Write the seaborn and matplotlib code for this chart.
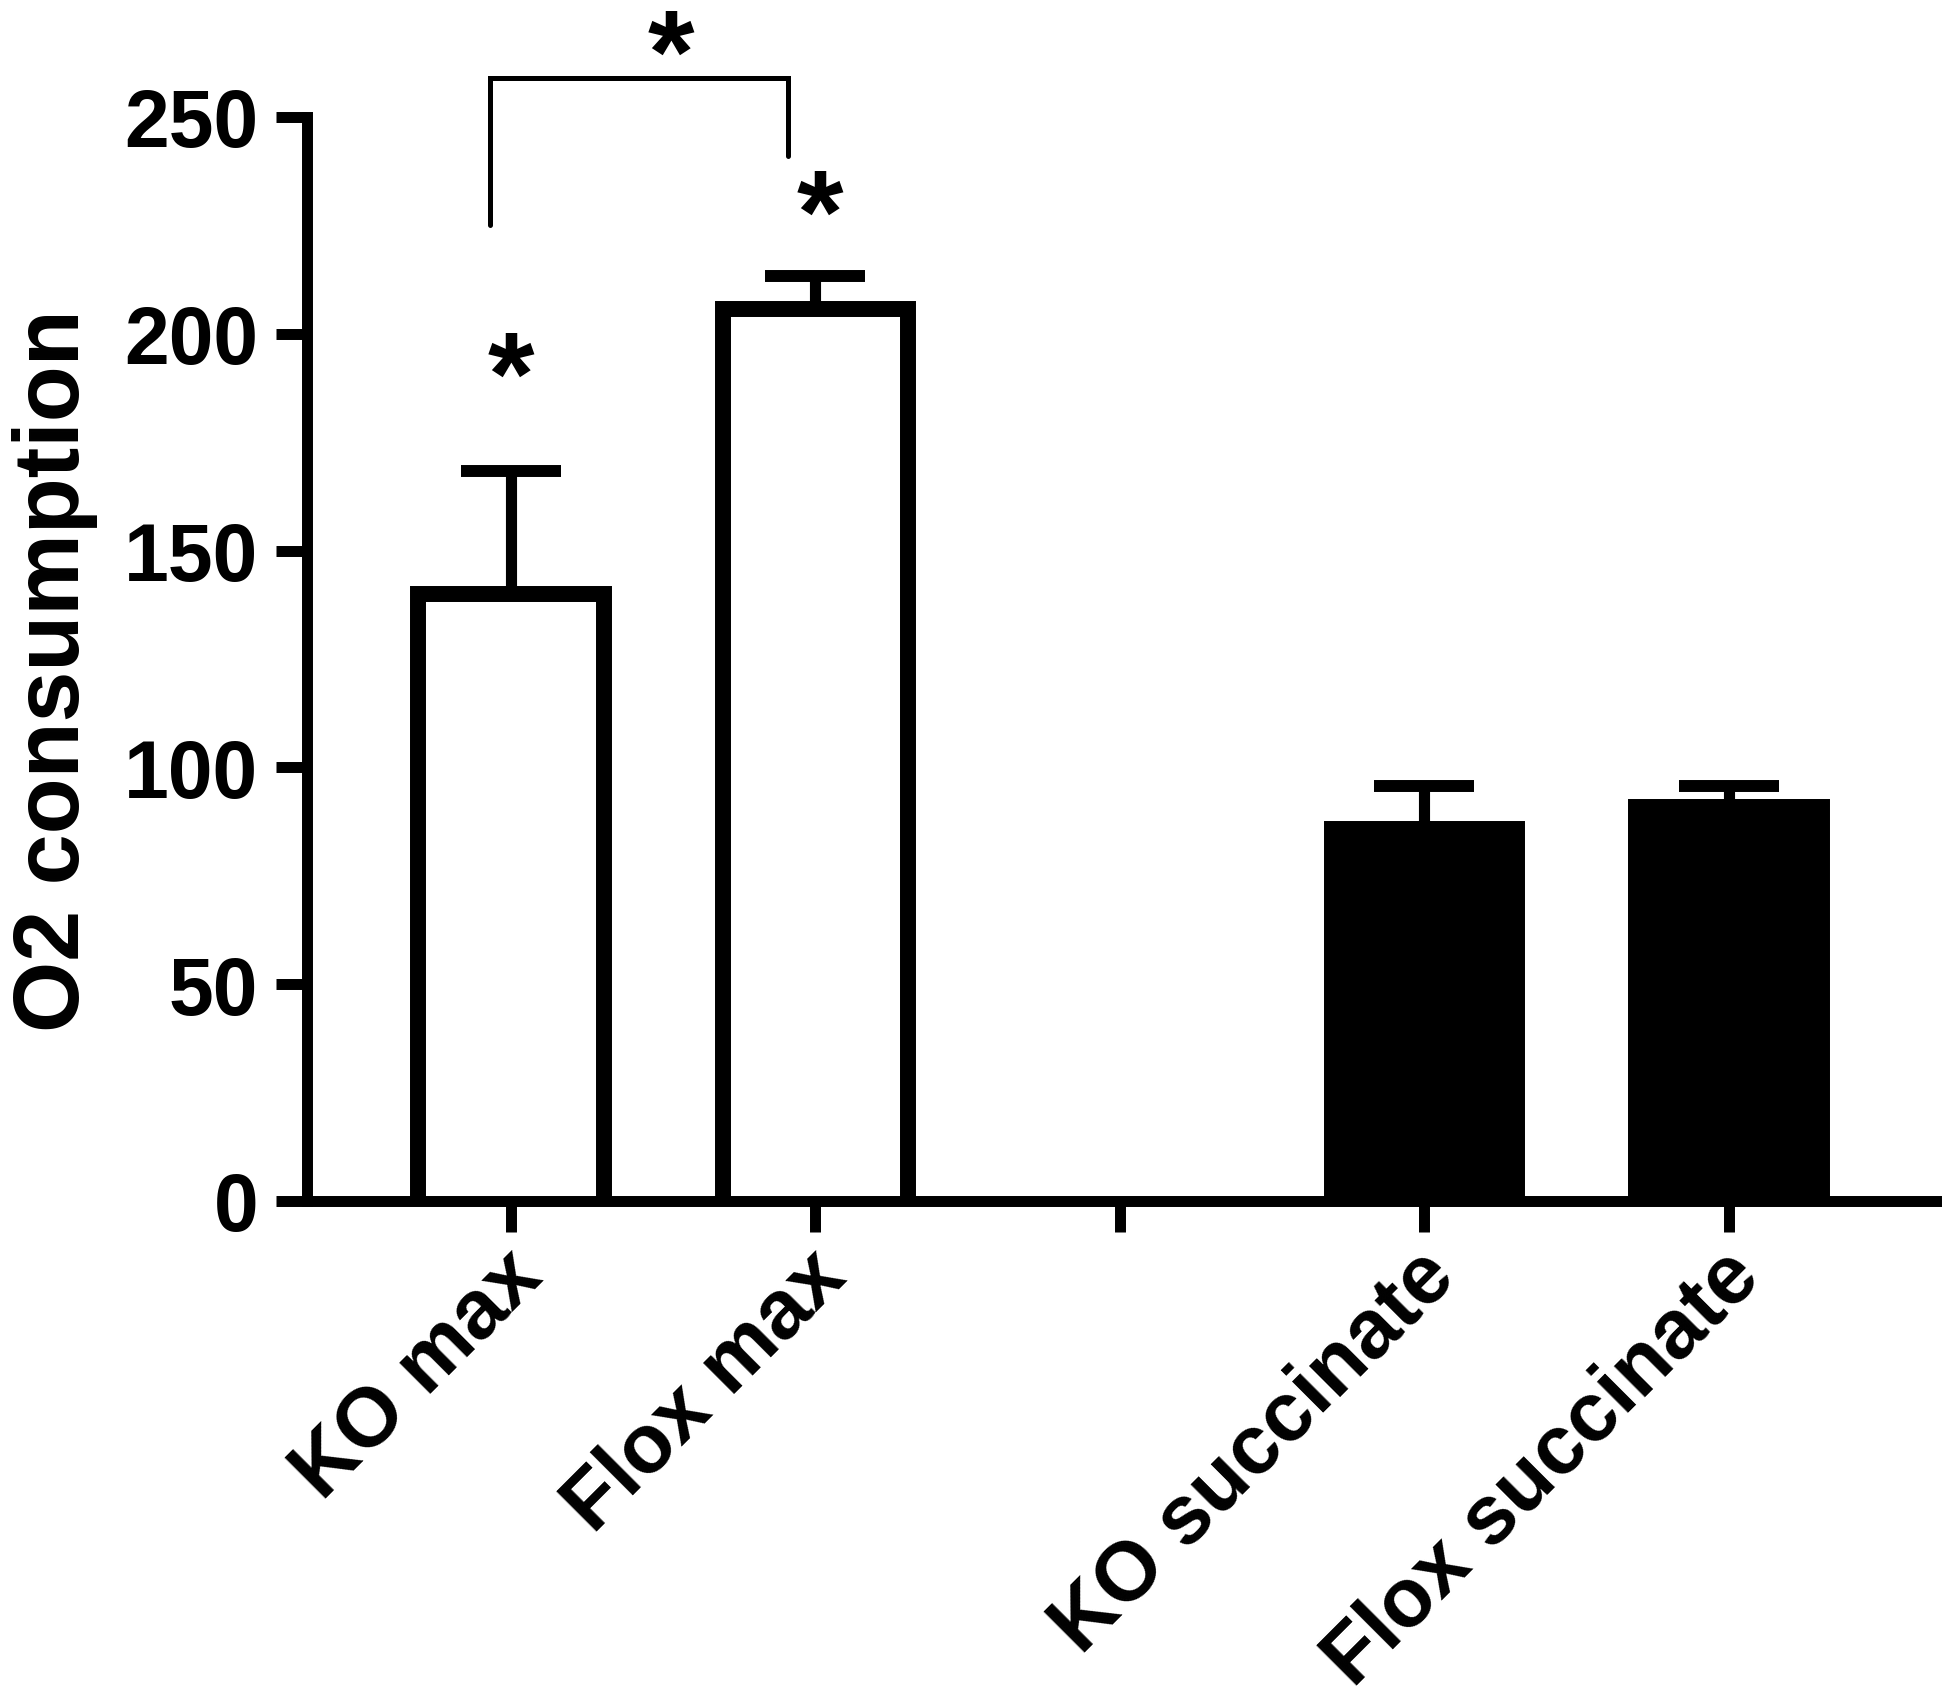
import numpy as np
import pandas as pd
import matplotlib
matplotlib.use("Agg")
import matplotlib.pyplot as plt
import matplotlib.transforms as mtransforms
import seaborn as sns

# ---- data ----
groups = ["KO max", "Flox max", "KO succinate", "Flox succinate"]
means = [140.1, 205.7, 85.9, 90.9]
err_up = [28.2, 7.7, 9.9, 4.9]
fills = ["white", "white", "black", "black"]
order = ["KO max", "Flox max", " ", "KO succinate", "Flox succinate"]
yticks = [0, 50, 100, 150, 200, 250]

# significance annotations
bracket_x = [-0.07, -0.07, 0.91, 0.91]
bracket_y = [225, 259, 259, 241]
star_x = [0.0, 1.015, 0.525]
star_y = [194.6, 231.8, 268.7]

sns.set_theme(style="ticks")
plt.rcParams["font.family"] = ["Liberation Sans", "DejaVu Sans"]
plt.rcParams["font.weight"] = "bold"

DPI = 100
fig = plt.figure(figsize=(19.5, 17.06), dpi=DPI)
ax = fig.add_axes([307 / 1950, 1 - 1202 / 1706, 1629 / 1950, 1084 / 1706])

bar_lw = 11.5
df = pd.DataFrame({"group": groups, "value": means})
sns.barplot(data=df, x="group", y="value", hue="group", order=order,
            hue_order=groups, palette=dict(zip(groups, fills)), legend=False,
            width=0.61, edgecolor="black", linewidth=bar_lw, errorbar=None,
            saturation=1, ax=ax)

pos = [order.index(g) for g in groups]
ax.errorbar(pos, means, yerr=[np.zeros(len(means)), err_up], fmt="none",
            ecolor="black", elinewidth=8, capsize=36, capthick=8.6, zorder=3)

ax.set_ylim(0, 250)
ax.set_xlim(-0.67, 4.68)
ax.set_yticks(yticks)
ax.set_yticklabels([str(v) for v in yticks])

# push each bar's bottom outline below the baseline so it hides under the axis
px_per_unit = (ax.transData.transform((0, 1))[1] - ax.transData.transform((0, 0))[1])
dy = (bar_lw / 72 * DPI / 2) / px_per_unit
for p in ax.patches:
    p.set_y(p.get_y() - dy)
    p.set_height(p.get_height() + dy)

sns.despine(ax=ax)
for s in ["left", "bottom"]:
    ax.spines[s].set_linewidth(7.9)
    ax.spines[s].set_color("black")
    ax.spines[s].set_zorder(5)

ax.tick_params(axis="both", length=22, width=7.9, color="black",
               labelsize=58, labelcolor="black")
ax.tick_params(axis="y", pad=13)
ax.tick_params(axis="x", pad=23, labelsize=60)

for lab in ax.get_yticklabels():
    lab.set_fontweight("bold")
offset = mtransforms.ScaledTranslation(0.18, 0, fig.dpi_scale_trans)
for lab in ax.get_xticklabels():
    lab.set_fontweight("bold")
    lab.set_rotation(45)
    lab.set_ha("right")
    lab.set_va("center")
    lab.set_rotation_mode("anchor")
    lab.set_transform(lab.get_transform() + offset)

ax.set_xlabel("")
ax.set_ylabel("O2 consumption", fontsize=66, fontweight="bold", color="black")
ax.yaxis.set_label_coords(-0.128, 0.49)

# bracket and stars
ax.plot(bracket_x, bracket_y, color="black", lw=3.6, clip_on=False,
        solid_joinstyle="miter")
star_fs = 86
for sx, sy in zip(star_x, star_y):
    ax.annotate("*", xy=(sx, sy), xytext=(0, -0.47 * star_fs),
                textcoords="offset points", ha="center", va="baseline",
                fontsize=star_fs, fontweight="bold", color="black",
                annotation_clip=False)

fig.savefig("out.png", dpi=DPI)
